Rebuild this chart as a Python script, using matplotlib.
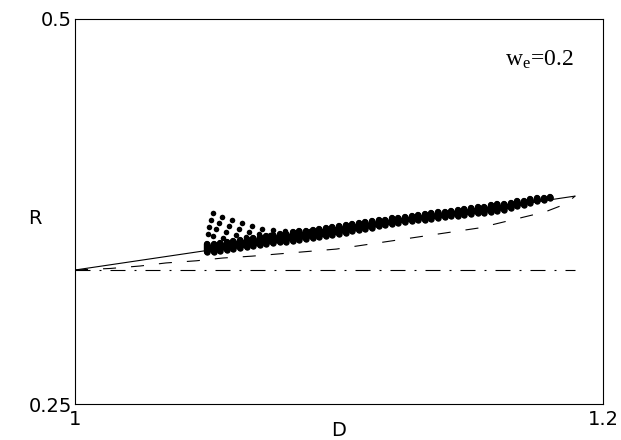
import numpy as np
import matplotlib
matplotlib.use("Agg")
import matplotlib.pyplot as plt

plt.rcParams['font.family'] = ['DejaVu Sans']
plt.rcParams['mathtext.fontset'] = 'custom'
plt.rcParams['mathtext.rm'] = 'Liberation Serif'
plt.rcParams['mathtext.it'] = 'Liberation Serif:italic'
plt.rcParams['lines.scale_dashes'] = False

# solid line
line_D = [1.0, 1.05, 1.10, 1.15, 1.1894]
line_R = [0.337, 0.3497, 0.3623, 0.3750, 0.385]

# dashed curve
dash_D = [1.0, 1.0133, 1.0246, 1.0345, 1.046, 1.056, 1.067, 1.099, 1.153, 1.178, 1.186, 1.1894]
dash_R = [0.337, 0.3380, 0.3396, 0.3416, 0.3430, 0.3448, 0.3460, 0.3506, 0.3643, 0.3747, 0.3800, 0.385]

# dash-dot level
level_D = [1.0, 1.1894]
level_R = [0.337, 0.337]

# dense band of points: column positions, lower and upper dot centres
band_D = [1.0500, 1.0525, 1.0550, 1.0575, 1.0600, 1.0625, 1.0650, 1.0675, 1.0700, 1.0725,
          1.0750, 1.0775, 1.0800, 1.0825, 1.0850, 1.0875, 1.0900, 1.0925, 1.0950, 1.0975,
          1.1000, 1.1025, 1.1050, 1.1075, 1.1100, 1.1125, 1.1150, 1.1175, 1.1200, 1.1225,
          1.1250, 1.1275, 1.1300, 1.1325, 1.1350, 1.1375, 1.1400, 1.1425, 1.1450, 1.1475,
          1.1500, 1.1525, 1.1550, 1.1575, 1.1600, 1.1625, 1.1650, 1.1675, 1.1700, 1.1725,
          1.1750, 1.1775, 1.1800]
band_lo = [0.3484, 0.3490, 0.3496, 0.3502, 0.3508, 0.3514, 0.3519, 0.3525, 0.3531, 0.3537,
           0.3543, 0.3549, 0.3555, 0.3561, 0.3567, 0.3573, 0.3578, 0.3584, 0.3590, 0.3597,
           0.3605, 0.3613, 0.3621, 0.3629, 0.3637, 0.3645, 0.3653, 0.3661, 0.3668, 0.3676,
           0.3682, 0.3687, 0.3692, 0.3697, 0.3702, 0.3707, 0.3713, 0.3718, 0.3723, 0.3728,
           0.3733, 0.3738, 0.3743, 0.3748, 0.3754, 0.3761, 0.3773, 0.3784, 0.3794, 0.3805,
           0.3816, 0.3827, 0.3838]
band_hi = [0.3536, 0.3542, 0.3548, 0.3554, 0.3560, 0.3566, 0.3571, 0.3577, 0.3583, 0.3589,
           0.3597, 0.3603, 0.3605, 0.3615, 0.3621, 0.3623, 0.3632, 0.3638, 0.3642, 0.3650,
           0.3656, 0.3660, 0.3669, 0.3675, 0.3679, 0.3687, 0.3693, 0.3697, 0.3705, 0.3711,
           0.3715, 0.3723, 0.3728, 0.3732, 0.3740, 0.3745, 0.3749, 0.3756, 0.3762, 0.3766,
           0.3773, 0.3779, 0.3782, 0.3790, 0.3796, 0.3800, 0.3808, 0.3815, 0.3820, 0.3828,
           0.3835, 0.3839, 0.3846]

# sparse points above the start of the band
spread_D = [1.0523, 1.0515, 1.0508, 1.0504, 1.0557, 1.0545, 1.0534, 1.0523, 1.0595, 1.0583,
            1.0572, 1.0561, 1.0633, 1.0621, 1.0610, 1.0670, 1.0659, 1.0648, 1.0708, 1.0697,
            1.0750, 1.0739, 1.0795, 1.0784, 1.0841, 1.0890]
spread_R = [0.3740, 0.3695, 0.3649, 0.3604, 0.3714, 0.3674, 0.3636, 0.3591, 0.3695, 0.3656,
            0.3617, 0.3578, 0.3675, 0.3636, 0.3597, 0.3656, 0.3617, 0.3584, 0.3636, 0.3604,
            0.3630, 0.3597, 0.3623, 0.3591, 0.3617, 0.3623]

fig = plt.figure(figsize=(6.21, 4.40), dpi=100)
ax = fig.add_axes([75/621, 1-404/440, 528/621, 385/440])

ax.plot(level_D, level_R, color='black', lw=0.8, dashes=(10.8, 6.5, 1.4, 6.5))
ax.plot(dash_D, dash_R, color='black', lw=0.8, dashes=(9.4, 10.8))
ax.plot(line_D, line_R, color='black', lw=0.8)

dot = 4.6
ax.fill_between(band_D, band_lo, band_hi, color='black', lw=0)
vl = ax.vlines(band_D, band_lo, band_hi, colors='black', lw=dot)
vl.set_capstyle('round')
ax.plot(band_D, band_hi, 'o', color='black', ms=dot, mew=0)
ax.plot(band_D, band_lo, 'o', color='black', ms=dot, mew=0)
ax.plot(spread_D, spread_R, 'o', color='black', ms=dot - 0.6, mew=0)

ax.set_xlim(1, 1.2)
ax.set_ylim(0.25, 0.5)
ax.set_xticks([1, 1.2])
ax.set_xticklabels(['1', '1.2'])
ax.set_yticks([0.25, 0.5])
ax.set_yticklabels(['0.25', '0.5'])
ax.tick_params(direction='in', length=0, labelsize=14)
ax.tick_params(axis='y', pad=2)
ax.tick_params(axis='x', pad=4)
for s in ax.spines.values():
    s.set_linewidth(0.8)

ax.set_xlabel('D', fontsize=14)
ax.xaxis.set_label_coords(0.5, -0.068)
ax.xaxis.label.set_va('center')
ax.set_ylabel('R', fontsize=14, rotation=0)
ax.yaxis.set_label_coords(-0.076, 0.483)
ax.yaxis.label.set_va('center')
ax.yaxis.label.set_ha('center')

ax.text(0.814, 0.878, r'$\mathrm{w_e}$=0.2', transform=ax.transAxes,
        fontsize=17, family='Liberation Serif', ha='left', va='baseline')

fig.savefig('out.png', dpi=100)
